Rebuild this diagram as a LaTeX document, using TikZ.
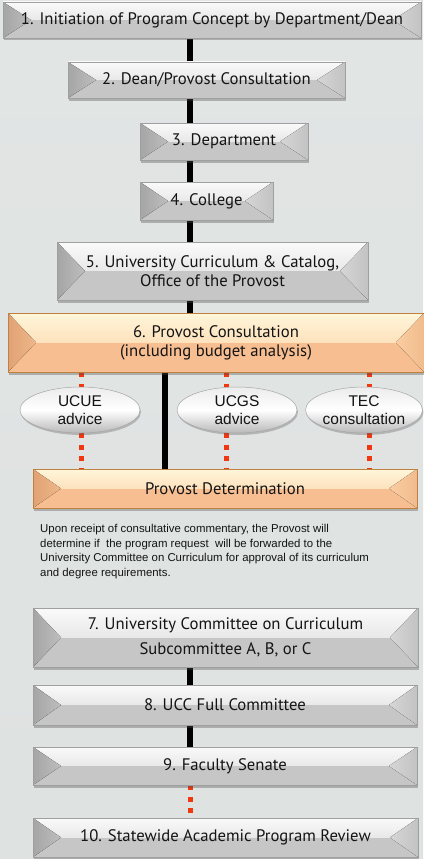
\documentclass[tikz,border=0pt]{standalone}
\usepackage{fontspec}
\setmainfont{Liberation Sans}
\newfontfamily\boxfont{PT Sans}
\usetikzlibrary{calc,shadows,shapes.geometric}
\definecolor{bgc}{RGB}{222,226,225}
\definecolor{gtop}{RGB}{250,250,250}
\definecolor{gmid}{RGB}{214,214,214}
\definecolor{glow}{RGB}{198,198,198}
\definecolor{gleft}{RGB}{165,165,165}
\definecolor{otop}{RGB}{255,246,218}
\definecolor{omid}{RGB}{250,205,160}
\definecolor{olow}{RGB}{247,190,145}
\definecolor{oleft}{RGB}{225,162,116}
\definecolor{reddot}{RGB}{240,55,15}
\definecolor{txt}{RGB}{20,20,20}
\pgfdeclarelayer{bglayer}
\pgfdeclarelayer{connlayer}
\pgfsetlayers{bglayer,connlayer,main}
\tikzset{
  bevel/.style n args={5}{rectangle, inner sep=0pt, align=center, text=txt,
    font=\boxfont\fontsize{16.7}{19}\selectfont,
    draw=#5, line width=0.5pt,
    drop shadow={shadow xshift=1pt,shadow yshift=-2.5pt,opacity=0.35,fill=black!70},
    path picture={
      \fill[top color=#1, bottom color=#2]
        (path picture bounding box.north west) rectangle (path picture bounding box.east);
      \fill[#3] (path picture bounding box.west) rectangle (path picture bounding box.south east);
      \fill[left color=#4, right color=#4!50!#2]
        (path picture bounding box.north west)
        -- ($(path picture bounding box.west)+(28,0)$)
        -- (path picture bounding box.south west) -- cycle;
      \fill[right color=#4!40!#2, left color=#2]
        (path picture bounding box.north east)
        -- ($(path picture bounding box.east)+(-28,0)$)
        -- (path picture bounding box.south east) -- cycle;
    }},
  graybox/.style={bevel={gtop}{gmid}{glow}{gleft}{gray!75}},
  orangebox/.style={bevel={otop}{omid}{olow}{oleft}{orange!50!gray}},
  oval/.style={ellipse, inner sep=0pt, minimum width=120pt, minimum height=46pt,
    align=center, text=txt, font=\fontsize{15.5}{18}\selectfont,
    draw=gray!70, line width=0.5pt,
    top color=gray!15, bottom color=gray!55, middle color=white,
    drop shadow={shadow xshift=1pt,shadow yshift=-2pt,opacity=0.3,fill=black!70}},
  barshadow/.style={line width=5pt, draw=gray!35, xshift=3pt},
  bar/.style={line width=5.5pt, draw=black},
  dotshadow/.style={line width=5pt, draw=gray!40, dash pattern=on 5pt off 6.5pt, xshift=4pt, yshift=-3pt},
  dots/.style={line width=5pt, draw=reddot, dash pattern=on 5pt off 6.5pt},
}
\begin{document}
\begin{tikzpicture}[x=1pt,y=-1pt]
\begin{pgfonlayer}{bglayer}
  \shade[top color=bgc!90!white, bottom color=bgc] (0,0) rectangle (423,859);
\end{pgfonlayer}
\useasboundingbox (0,0) rectangle (423,859);

\coordinate (cx) at (190,0);
\coordinate (kx) at (165,0);
\coordinate (d1) at (81,0);
\coordinate (d2) at (226,0);
\coordinate (d3) at (369,0);

\node[graybox, minimum width=418pt, minimum height=36pt] (b1) at (212,20)
  {1. Initiation of Program Concept by Department/Dean};
\node[graybox, minimum width=277pt, minimum height=36pt] (b2) at (206.5,80)
  {2. Dean/Provost Consultation};
\node[graybox, minimum width=168pt, minimum height=37pt] (b3) at (224,141.5)
  {3. Department};
\node[graybox, minimum width=133pt, minimum height=38pt] (b4) at (206.5,201)
  {4. College};
\node[graybox, minimum width=311pt, minimum height=58pt] (b5) at (212.5,271)
  {5. University Curriculum \& Catalog,\\Office of the Provost};
\node[orangebox, minimum width=416pt, minimum height=59pt] (b6) at (216,342.5)
  {6. Provost Consultation\\(including budget analysis)};
\node[oval] (e1) at (80,410) {UCUE\\advice};
\node[oval] (e2) at (237,410) {UCGS\\advice};
\node[oval, minimum width=112pt] (e3) at (364,410) {TEC\\consultation};
\node[orangebox, minimum width=384pt, minimum height=39pt] (pd) at (225,488.5)
  {Provost Determination};
\node[anchor=north west, inner sep=0pt, align=left, text=txt,
  font=\fontsize{11.4}{14.6}\selectfont] (para) at (40,524)
  {Upon receipt of consultative commentary, the Provost will\\
   determine if\ \ the program request\ \ will be forwarded to the\\
   University Committee on Curriculum for approval of its curriculum\\
   and degree requirements.};
\node[graybox, minimum width=385pt, minimum height=59pt,
  font=\boxfont\fontsize{16.7}{25}\selectfont] (b7) at (225.5,637.5)
  {7. University Committee on Curriculum\\Subcommittee A, B, or C};
\node[graybox, minimum width=384pt, minimum height=40pt] (b8) at (225,705)
  {8. UCC Full Committee};
\node[graybox, minimum width=384pt, minimum height=38pt] (b9) at (225,766)
  {9. Faculty Senate};
\node[graybox, minimum width=385pt, minimum height=39pt] (b10) at (225.5,837.5)
  {10. Statewide Academic Program Review};

\begin{pgfonlayer}{connlayer}
  \foreach \a/\b in {b1/b2,b2/b3,b3/b4,b4/b5,b5/b6,b7/b8,b8/b9}{
    \draw[barshadow] (\a.south -| cx) -- (\b.north -| cx);
    \draw[bar] (\a.south -| cx) -- (\b.north -| cx);
  }
  \draw[barshadow] (b6.south -| kx) -- (pd.north -| kx);
  \draw[bar] (b6.south -| kx) -- (pd.north -| kx);
  \foreach \e/\d in {e1/d1,e2/d2,e3/d3}{
    \draw[dotshadow] (b6.south -| \d) -- (\e.north -| \d);
    \draw[dots] (b6.south -| \d) -- (\e.north -| \d);
    \draw[dotshadow] (\e.south -| \d) -- (pd.north -| \d);
    \draw[dots] (\e.south -| \d) -- (pd.north -| \d);
  }
  \draw[dotshadow] (b9.south -| cx) -- (b10.north -| cx);
  \draw[dots] (b9.south -| cx) -- (b10.north -| cx);
\end{pgfonlayer}
\end{tikzpicture}
\end{document}
